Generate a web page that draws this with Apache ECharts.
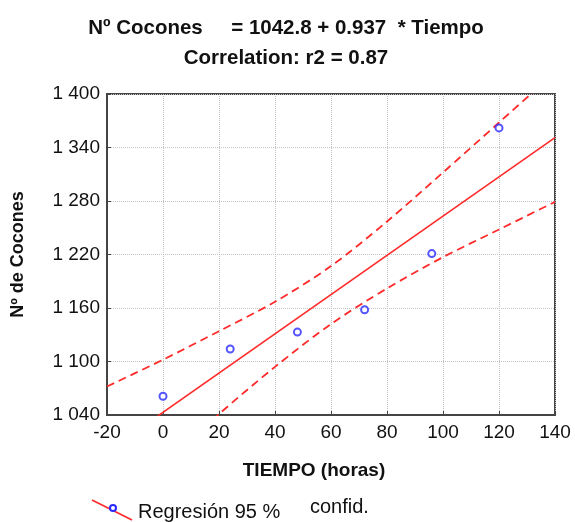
<!DOCTYPE html>
<html>
<head>
<meta charset="utf-8">
<script src="https://cdn.jsdelivr.net/npm/echarts@6/dist/echarts.min.js"></script>
<style>
  html, body { margin: 0; padding: 0; background: #fff; }
  #main { width: 575px; height: 522px; }
</style>
</head>
<body>
<div id="main"></div>
<script>
// observed points (tiempo en horas, nº de cocones)
var tiempo = [0, 24, 48, 72, 96, 120];
var cocones = [1061, 1114, 1133, 1158, 1221, 1362];

// regression line, read at the two ends of the x range
var regX = [-20, 140];
var regY = [999, 1351];

// 95 % confidence bands
var bandX = [-20, 0, 20, 40, 60, 80, 100, 120, 140];
var bandUpper = [1072, 1102, 1134, 1167, 1207, 1257, 1312, 1368, 1424];
var bandLower = [926, 983, 1041, 1094, 1142, 1182, 1217, 1248, 1279];

var xTicks = { min: -20, max: 140, step: 20 };
var yTicks = { min: 1040, max: 1400, step: 60 };

function pairs(xs, ys) {
  return xs.map(function (x, i) { return [x, ys[i]]; });
}

var chartDom = document.getElementById("main");
var myChart = echarts.init(chartDom);

var red = "#ff2a2a";
var font = "Liberation Sans, Arial, sans-serif";

var option = {
  animation: false,
  title: [
    {
      text: "Nº Cocones     = 1042.8 + 0.937  * Tiempo",
      left: 281,
      top: 13,
      textAlign: "center",
      textStyle: { fontFamily: font, fontSize: 20.5, fontWeight: "bold", color: "#111" }
    },
    {
      text: "Correlation: r2 = 0.87",
      left: 281,
      top: 43,
      textAlign: "center",
      textStyle: { fontFamily: font, fontSize: 20.5, fontWeight: "bold", color: "#111" }
    }
  ],
  grid: {
    left: 107,
    right: 20,
    top: 94,
    bottom: 107,
    show: true,
    borderColor: "#444",
    borderWidth: 2
  },
  xAxis: {
    type: "value",
    min: xTicks.min,
    max: xTicks.max,
    interval: xTicks.step,
    name: "TIEMPO (horas)",
    nameLocation: "middle",
    nameGap: 46,
    nameTextStyle: { fontFamily: font, fontSize: 19, fontWeight: "bold", color: "#111", padding: [0, 34, 0, 0] },
    axisLine: { show: true, onZero: false, lineStyle: { color: "#444", width: 2 } },
    axisTick: { show: true, inside: true, length: 4, lineStyle: { color: "#444" } },
    axisLabel: { fontFamily: font, fontSize: 19, color: "#111", margin: 8 },
    splitLine: { show: true, lineStyle: { color: "#c4c4c4", type: "dotted", width: 1 } }
  },
  yAxis: {
    type: "value",
    min: yTicks.min,
    max: yTicks.max,
    interval: yTicks.step,
    name: "Nº de Cocones",
    nameLocation: "middle",
    nameGap: 80,
    nameTextStyle: { fontFamily: font, fontSize: 18, fontWeight: "bold", color: "#111" },
    axisLine: { show: true, onZero: false, lineStyle: { color: "#444", width: 2 } },
    axisTick: { show: true, inside: true, length: 4, lineStyle: { color: "#444" } },
    axisLabel: {
      fontFamily: font,
      fontSize: 19,
      color: "#111",
      margin: 7,
      formatter: function (v) {
        return String(v).replace(/\B(?=(\d{3})+(?!\d))/g, " ");
      }
    },
    splitLine: { show: true, lineStyle: { color: "#c4c4c4", type: "dotted", width: 1 } }
  },
  series: [
    {
      name: "Regresión",
      type: "line",
      data: pairs(regX, regY),
      symbol: "none",
      clip: true,
      lineStyle: { color: red, width: 1.6 },
      z: 3
    },
    {
      name: "upper",
      type: "line",
      data: pairs(bandX, bandUpper),
      symbol: "none",
      smooth: 0.3,
      clip: true,
      lineStyle: { color: red, width: 1.8, type: [8, 5] },
      z: 3
    },
    {
      name: "lower",
      type: "line",
      data: pairs(bandX, bandLower),
      symbol: "none",
      smooth: 0.3,
      clip: true,
      lineStyle: { color: red, width: 1.8, type: [8, 5] },
      z: 3
    },
    {
      name: "datos",
      type: "scatter",
      data: pairs(tiempo, cocones),
      symbol: "circle",
      symbolSize: 7,
      itemStyle: { color: "#fff", borderColor: "#2a2aff", borderWidth: 2 },
      z: 4
    }
  ],
  graphic: [
    {
      type: "line",
      shape: { x1: 92, y1: 500, x2: 132, y2: 520 },
      style: { stroke: red, lineWidth: 1.6 }
    },
    {
      type: "circle",
      shape: { cx: 113, cy: 508, r: 3 },
      style: { fill: "#fff", stroke: "#2a2aff", lineWidth: 2 }
    },
    {
      type: "text",
      left: 138,
      top: 502,
      style: { text: "Regresión 95 %", font: "20px " + font, fill: "#111" }
    },
    {
      type: "text",
      left: 310,
      top: 497,
      style: { text: "confid.", font: "20px " + font, fill: "#111" }
    }
  ]
};

option && myChart.setOption(option);
</script>
</body>
</html>
